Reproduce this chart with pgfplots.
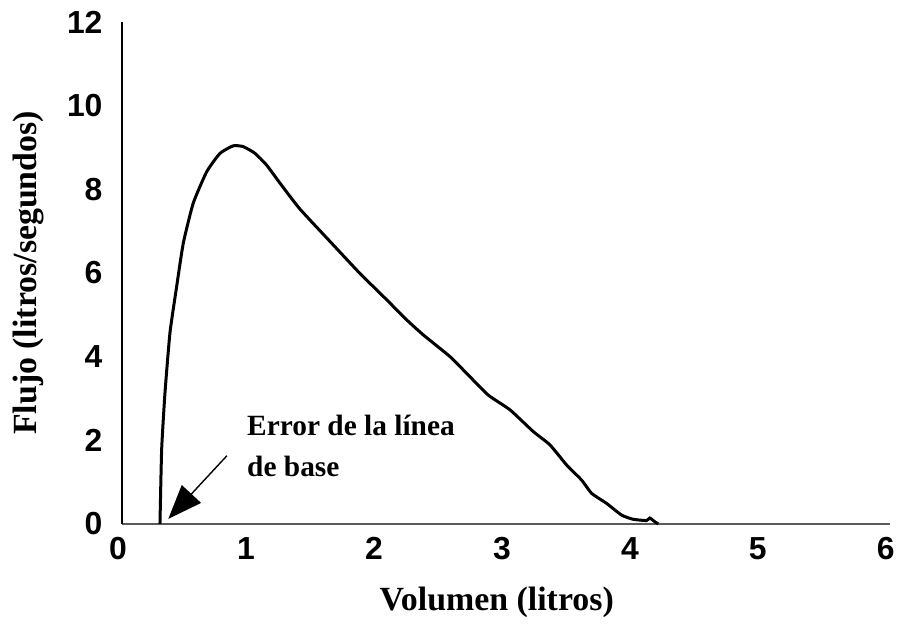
\documentclass[border=0pt]{standalone}
\usepackage{fontspec}
\setmainfont{Liberation Serif}
\newfontfamily\arialfont{Liberation Sans}
\usepackage{pgfplots}
\pgfplotsset{compat=1.18}
\usetikzlibrary{arrows.meta}
\definecolor{axgray}{RGB}{90,90,90}
\begin{document}
\begin{tikzpicture}
\begin{axis}[
  scale only axis,
  width=768bp, height=502bp,
  xmin=0, xmax=6, ymin=0, ymax=12,
  axis x line=bottom, axis y line=left,
  x axis line style={-, axgray, line width=1.6bp},
  y axis line style={-, black, line width=1.6bp},
  xtick={0,1,2,3,4,5,6}, ytick={0,2,4,6,8,10,12},
  major tick length=0pt,
  /pgf/number format/assume math mode=true,
  tick label style={font=\arialfont\bfseries\fontsize{32}{34}\selectfont},
  xticklabel style={yshift=-10bp, xshift=-4bp},
  yticklabel style={xshift=-16bp},
  clip=false,
]
\addplot[black, line width=3bp, smooth, tension=0.3] coordinates {
(0.297,0) (0.31,1.77) (0.336,3.13) (0.375,4.57) (0.427,5.67) (0.479,6.71)
(0.557,7.67) (0.662,8.42) (0.766,8.86) (0.87,9.04) (0.948,9.02) (1.039,8.86)
(1.13,8.58) (1.234,8.15) (1.39,7.53) (1.651,6.67) (1.859,5.99) (2.068,5.36)
(2.224,4.88) (2.354,4.52) (2.563,4.00) (2.693,3.60) (2.862,3.08) (3.031,2.73)
(3.213,2.21) (3.344,1.89) (3.474,1.41) (3.591,1.05) (3.67,0.73) (3.787,0.49)
(3.904,0.21) (3.995,0.11) (4.099,0.08) (4.125,0.14) (4.164,0.05) (4.19,0)
};
\draw[line width=1.4bp, -{Triangle[length=34bp,width=26bp]}] (axis cs:0.82,1.63) -- (axis cs:0.362,0.12);
\node[anchor=base west, inner sep=0pt, font=\bfseries\fontsize{29.5}{34}\selectfont] at (axis cs:0.977,2.12) {Error de la línea};
\node[anchor=base west, inner sep=0pt, font=\bfseries\fontsize{29.5}{34}\selectfont] at (axis cs:0.977,1.14) {de base};
\node[font=\bfseries\fontsize{34}{38}\selectfont] at (axis description cs:0.488,-0.157) {Volumen (litros)};
\node[rotate=90, font=\bfseries\fontsize{34}{38}\selectfont] at (axis description cs:-0.122,0.5) {Flujo (litros/segundos)};
\end{axis}
\path (current axis.south west) ++(-122bp,-113bp) coordinate (bbA);
\path (current axis.north east) ++(8bp,22bp) coordinate (bbB);
\useasboundingbox (bbA) rectangle (bbB);
\end{tikzpicture}
\end{document}
